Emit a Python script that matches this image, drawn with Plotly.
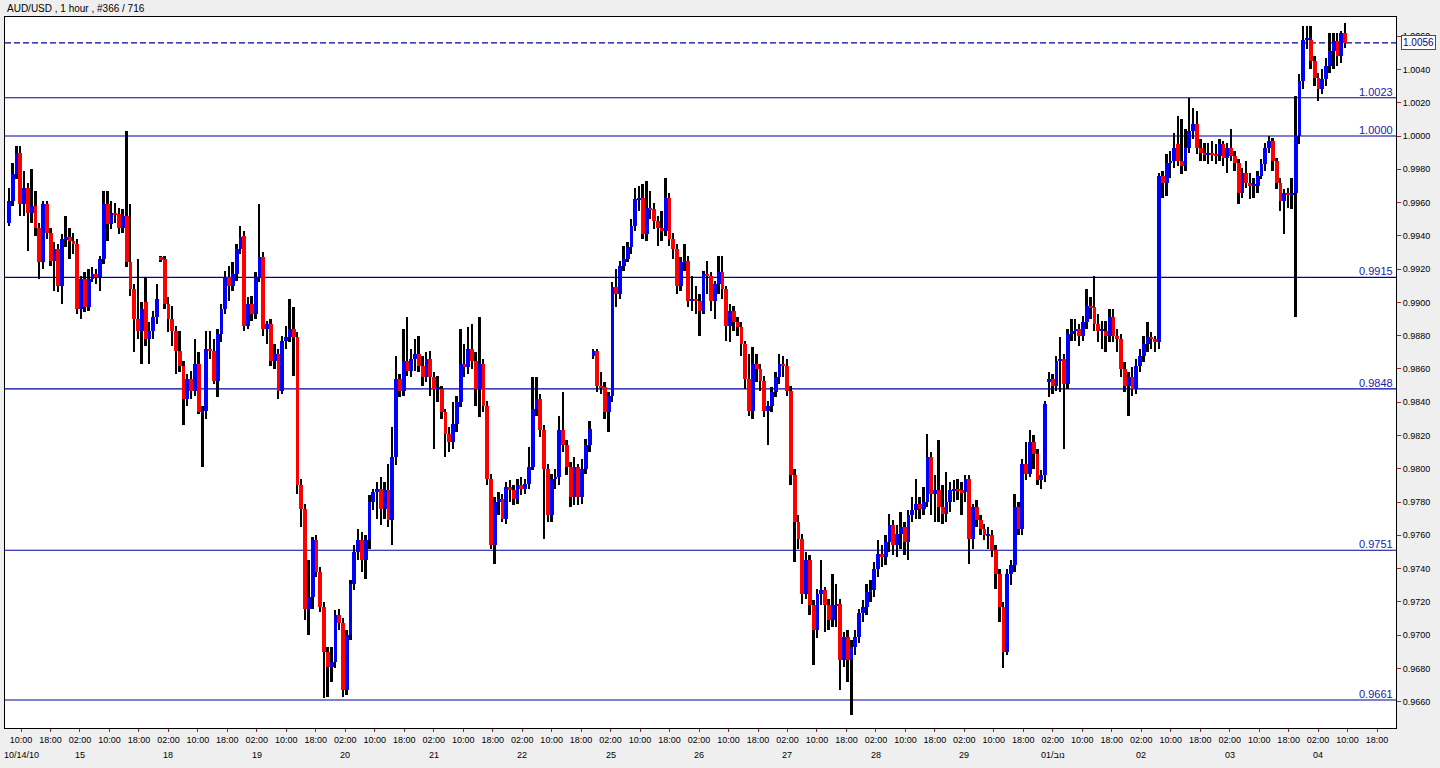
import plotly.graph_objects as go

# ---------------- data (AUD/USD, 1 hour bars) ----------------
open_ = [
    .9948, .9961, .9977, .9990, .9959, .9969, .9954, .9958, .9945, .9924,
    .9959, .9942, .9925, .9932, .9910, .9938, .9939, .9937, .9935, .9896,
    .9914, .9897, .9914, .9917, .9915, .9926, .9959, .9947, .9954, .9953,
    .9945, .9952, .9924, .9908, .9890, .9883, .9900, .9878, .9883, .9891,
    .9927, .9926, .9899, .9890, .9883, .9871, .9862, .9842, .9854, .9847,
    .9863, .9834, .9835, .9872, .9871, .9853, .9881, .9896, .9915, .9910,
    .9917, .9932, .9940, .9886, .9899, .9893, .9915, .9927, .9884, .9887, .9865, .9869,
    .9847, .9877, .9879, .9884, .9879, .9790, .9776, .9716, .9723, .9757,
    .9738, .9717, .9690, .9681, .9684, .9712, .9707, .9667, .9700, .9731,
    .9750, .9757, .9745, .9757, .9780, .9786, .9788, .9776, .9787, .9769,
    .9807, .9854, .9847, .9865, .9859, .9866, .9869, .9862, .9855, .9866,
    .9855, .9848, .9848, .9834, .9821, .9816, .9827, .9840, .9863, .9861,
    .9872, .9865, .9848, .9863, .9838, .9794, .9754, .9780, .9782, .9770,
    .9789, .9787, .9782, .9790, .9788, .9791, .9801, .9836, .9842, .9823, .9800,
    .9772, .9794, .9795, .9823, .9814, .9801, .9783, .9801, .9783, .9800, .9814,
    .9868, .9871, .9850, .9849, .9834, .9844, .9909, .9905, .9922, .9926,
    .9933, .9946, .9962, .9963, .9941, .9957, .9956, .9949, .9945, .9943,
    .9963, .9938, .9932, .9910, .9924, .9925, .9901, .9902, .9901, .9895,
    .9917, .9916, .9901, .9911, .9918, .9908, .9886, .9895, .9888, .9885,
    .9875, .9854, .9835, .9863, .9860, .9853, .9835, .9838, .9846, .9855, .9863, .9862,
    .9847, .9796, .9768, .9758, .9725, .9745, .9718, .9703, .9725, .9727, .9718,
    .9709, .9718, .9719, .9685, .9699, .9685, .9693, .9699, .9713, .9717,
    .9726, .9727, .9740, .9749, .9747, .9756, .9766, .9754, .9761, .9765,
    .9756, .9772, .9775, .9779, .9776, .9780, .9807, .9785, .9787, .9777,
    .9773, .9780, .9787, .9788, .9787, .9786, .9794, .9758, .9777, .9769,
    .9764, .9760, .9760, .9751, .9737, .9717, .9690, .9737, .9742, .9777,
    .9764, .9803, .9797, .9816, .9809, .9793, .9796,
    .9852, .9854, .9850, .9865, .9866, .9851, .9881, .9883, .9884, .9880,
    .9888, .9898, .9897, .9887, .9883, .9883, .9880, .9891, .9880, .9878,
    .9860, .9850, .9855, .9848, .9862, .9868, .9875, .9879, .9878, .9876,
    .9976, .9972, .9984, .9985, .9995, .9985, .9982, .9993, 1.0003, 1.0007,
    .9993, .9990, .9989, .9990, .9989, .9988, .9995, .9987, .9993, .9988,
    .9984, .9966, .9978, .9972, .9970, .9970, .9976, .9983, .9993, .9997,
    .9985, .9972, .9961, .9966, .9965, .9966, 1.0000, 1.0033, 1.0058, 1.0058,
    1.0045, 1.0035, 1.0028, 1.0034, 1.0042, 1.0051, 1.0057, 1.0048, 1.0062,
]
high = [
    .9969, .9984, .9994, .9994, .9979, .9972, .9980, .9967, .9948, .9961,
    .9961, .9945, .9936, .9935, .9941, .9952, .9945, .9942, .9938, .9916,
    .9918, .9920, .9921, .9920, .9928, .9967, .9967, .9961, .9960, .9957,
    .9956, 1.0003, .9959, .9911, .9926, .9900, .9915, .9888, .9895, .9911,
    .9928, .9928, .9903, .9898, .9886, .9883, .9865, .9857, .9859, .9878,
    .9870, .9838, .9883, .9883, .9878, .9884, .9899, .9919, .9922, .9924,
    .9935, .9946, .9943, .9903, .9904, .9918, .9959, .9930, .9889, .9890, .9875, .9872,
    .9880, .9886, .9902, .9897, .9882, .9794, .9779, .9745, .9759, .9760,
    .9741, .9720, .9693, .9693, .9715, .9716, .9710, .9703, .9733, .9754,
    .9764, .9762, .9760, .9784, .9788, .9792, .9795, .9792, .9803, .9825,
    .9868, .9857, .9884, .9891, .9872, .9878, .9880, .9868, .9870, .9871,
    .9858, .9856, .9850, .9836, .9825, .9840, .9844, .9884, .9875, .9885,
    .9887, .9870, .9891, .9866, .9841, .9797, .9783, .9786, .9785, .9792,
    .9793, .9790, .9794, .9795, .9794, .9813, .9855, .9855, .9845, .9826, .9803,
    .9797, .9800, .9832, .9846, .9817, .9804, .9807, .9803, .9806, .9818, .9829,
    .9872, .9872, .9858, .9852, .9846, .9912, .9920, .9925, .9934, .9936,
    .9950, .9969, .9970, .9971, .9973, .9967, .9960, .9952, .9955, .9975,
    .9966, .9942, .9935, .9927, .9935, .9928, .9916, .9910, .9905, .9919,
    .9925, .9918, .9913, .9928, .9928, .9910, .9899, .9898, .9891, .9888,
    .9877, .9869, .9873, .9869, .9863, .9856, .9841, .9849, .9858, .9869, .9868, .9866,
    .9850, .9800, .9772, .9761, .9750, .9748, .9721, .9728, .9745, .9729, .9722,
    .9737, .9731, .9722, .9702, .9703, .9697, .9703, .9716, .9721, .9731,
    .9733, .9744, .9757, .9754, .9760, .9773, .9769, .9766, .9774, .9768,
    .9775, .9783, .9794, .9783, .9789, .9821, .9810, .9796, .9817, .9790,
    .9798, .9792, .9793, .9794, .9792, .9796, .9796, .9779, .9781, .9772,
    .9767, .9765, .9763, .9754, .9740, .9720, .9740, .9745, .9785, .9780,
    .9806, .9816, .9823, .9820, .9812, .9799, .9841,
    .9858, .9857, .9868, .9879, .9869, .9884, .9890, .9890, .9887, .9892,
    .9908, .9903, .9916, .9893, .9889, .9889, .9896, .9896, .9884, .9881,
    .9864, .9858, .9861, .9866, .9872, .9880, .9888, .9882, .9880, .9978,
    .9979, .9989, .9991, 1.0002, 1.0012, 1.0010, 1.0004, 1.0023, 1.0017, 1.0015,
    .9998, .9996, .9996, .9997, .9995, .9998, .9997, .9996, 1.0004, .9991,
    .9986, .9981, .9985, .9978, .9975, .9979, .9986, .9996, 1.0000, .9999,
    .9987, .9975, .9968, .9969, .9975, 1.0024, 1.0037, 1.0066, 1.0066, 1.0066,
    1.0048, 1.0038, 1.0040, 1.0047, 1.0062, 1.0062, 1.0062, 1.0063, 1.0068,
]
low = [
    .9946, .9958, .9974, .9952, .9952, .9931, .9948, .9940, .9914, .9920,
    .9938, .9922, .9907, .9906, .9899, .9933, .9926, .9929, .9893, .9890,
    .9894, .9895, .9912, .9911, .9907, .9923, .9937, .9944, .9948, .9941,
    .9942, .9921, .9904, .9870, .9878, .9863, .9874, .9863, .9878, .9887,
    .9924, .9896, .9882, .9874, .9857, .9858, .9826, .9838, .9842, .9844,
    .9833, .9801, .9830, .9866, .9851, .9843, .9876, .9893, .9901, .9907,
    .9913, .9929, .9883, .9884, .9889, .9890, .9912, .9880, .9875, .9862, .9860, .9842,
    .9845, .9872, .9876, .9856, .9785, .9765, .9709, .9700, .9716, .9735,
    .9714, .9662, .9663, .9672, .9680, .9703, .9663, .9664, .9697, .9727,
    .9745, .9738, .9734, .9752, .9775, .9770, .9766, .9770, .9765, .9754,
    .9802, .9843, .9844, .9856, .9855, .9859, .9858, .9850, .9852, .9844,
    .9812, .9840, .9830, .9807, .9810, .9812, .9822, .9837, .9855, .9857,
    .9860, .9838, .9831, .9834, .9790, .9752, .9743, .9772, .9768, .9767,
    .9780, .9778, .9779, .9784, .9785, .9788, .9799, .9832, .9819, .9758, .9768,
    .9768, .9788, .9790, .9810, .9796, .9777, .9778, .9778, .9779, .9797, .9810,
    .9866, .9846, .9845, .9830, .9822, .9840, .9897, .9902, .9919, .9924,
    .9929, .9943, .9955, .9938, .9937, .9950, .9944, .9934, .9937, .9940,
    .9934, .9926, .9905, .9907, .9919, .9897, .9895, .9893, .9880, .9893,
    .9905, .9895, .9890, .9905, .9902, .9877, .9876, .9883, .9880, .9868,
    .9848, .9832, .9830, .9852, .9847, .9831, .9814, .9834, .9843, .9851, .9855, .9844,
    .9790, .9744, .9752, .9719, .9722, .9712, .9682, .9698, .9718, .9702, .9703,
    .9705, .9705, .9667, .9681, .9672, .9652, .9688, .9695, .9708, .9712,
    .9720, .9723, .9735, .9741, .9742, .9750, .9748, .9747, .9752, .9748,
    .9745, .9768, .9770, .9770, .9772, .9777, .9772, .9768, .9768, .9767,
    .9768, .9774, .9780, .9781, .9772, .9780, .9743, .9752, .9765, .9760,
    .9757, .9752, .9747, .9728, .9708, .9680, .9688, .9730, .9738, .9760,
    .9760, .9793, .9795, .9800, .9790, .9788, .9792,
    .9843, .9845, .9847, .9846, .9812, .9848, .9877, .9877, .9874, .9877,
    .9884, .9890, .9883, .9876, .9872, .9870, .9876, .9876, .9870, .9855,
    .9846, .9832, .9844, .9845, .9858, .9864, .9870, .9872, .9870, .9872,
    .9963, .9964, .9975, .9981, .9982, .9977, .9979, .9990, .9998, .9989,
    .9985, .9985, .9983, .9985, .9983, .9985, .9982, .9978, .9985, .9979,
    .9959, .9963, .9969, .9962, .9963, .9966, .9974, .9979, .9990, .9979,
    .9968, .9955, .9941, .9957, .9956, .9891, .9995, 1.0028, 1.0052, 1.0040,
    1.0030, 1.0021, 1.0025, 1.0030, 1.0038, 1.0040, 1.0042, 1.0044, 1.0053,
]
close = [
    .9961, .9977, .9990, .9959, .9969, .9954, .9958, .9945, .9924, .9959,
    .9942, .9925, .9932, .9910, .9938, .9939, .9937, .9935, .9896, .9914,
    .9897, .9914, .9917, .9915, .9926, .9959, .9947, .9954, .9953, .9945,
    .9952, .9924, .9908, .9890, .9883, .9896, .9878, .9883, .9891, .9902,
    .9926, .9899, .9890, .9883, .9871, .9862, .9842, .9854, .9847, .9863,
    .9834, .9835, .9872, .9871, .9853, .9881, .9896, .9915, .9910, .9917,
    .9932, .9939, .9886, .9899, .9893, .9915, .9927, .9884, .9887, .9865, .9869, .9847,
    .9877, .9879, .9884, .9879, .9790, .9776, .9716, .9723, .9757, .9738,
    .9717, .9690, .9681, .9684, .9712, .9707, .9667, .9700, .9731, .9750,
    .9757, .9745, .9757, .9780, .9786, .9788, .9776, .9787, .9769, .9807,
    .9854, .9847, .9865, .9859, .9866, .9869, .9862, .9855, .9866, .9855,
    .9848, .9848, .9834, .9821, .9816, .9827, .9840, .9863, .9861, .9872,
    .9865, .9848, .9863, .9838, .9794, .9754, .9780, .9782, .9770, .9789,
    .9787, .9782, .9790, .9788, .9791, .9801, .9836, .9842, .9823, .9800, .9772,
    .9794, .9795, .9823, .9814, .9801, .9783, .9801, .9783, .9800, .9814, .9824,
    .9871, .9850, .9849, .9834, .9844, .9909, .9905, .9922, .9926, .9933,
    .9946, .9962, .9963, .9941, .9957, .9956, .9949, .9945, .9943, .9963,
    .9938, .9932, .9910, .9924, .9925, .9901, .9902, .9901, .9895, .9917,
    .9916, .9901, .9911, .9918, .9908, .9886, .9895, .9888, .9885, .9875,
    .9854, .9835, .9863, .9860, .9853, .9835, .9838, .9846, .9855, .9863, .9862, .9847,
    .9796, .9768, .9758, .9725, .9745, .9718, .9703, .9725, .9727, .9718, .9709,
    .9718, .9719, .9685, .9699, .9685, .9693, .9699, .9713, .9717, .9726,
    .9727, .9740, .9749, .9747, .9756, .9766, .9754, .9761, .9765, .9756,
    .9772, .9775, .9779, .9776, .9780, .9807, .9785, .9787, .9777, .9773,
    .9780, .9787, .9788, .9787, .9786, .9794, .9758, .9777, .9769, .9764,
    .9760, .9760, .9751, .9737, .9717, .9690, .9737, .9742, .9777, .9764,
    .9803, .9797, .9816, .9809, .9793, .9796, .9839,
    .9854, .9850, .9865, .9866, .9851, .9881, .9883, .9884, .9880, .9888,
    .9898, .9897, .9887, .9883, .9883, .9880, .9891, .9880, .9878, .9860,
    .9850, .9855, .9848, .9862, .9868, .9875, .9879, .9878, .9876, .9976,
    .9972, .9984, .9985, .9993, .9985, .9982, .9993, 1.0003, 1.0007, .9993,
    .9990, .9989, .9990, .9989, .9988, .9995, .9987, .9993, .9988, .9984,
    .9966, .9978, .9972, .9970, .9970, .9976, .9983, .9993, .9997, .9985,
    .9972, .9961, .9966, .9965, .9966, 1.0000, 1.0033, 1.0058, 1.0058, 1.0045,
    1.0035, 1.0028, 1.0034, 1.0042, 1.0051, 1.0057, 1.0048, 1.0062, 1.0056,
]

# support / resistance levels and the current bid line
levels = [1.0023, 1.0000, 0.9915, 0.9848, 0.9751, 0.9661]
bid_price = 1.0056

# x-axis labels (one every 8 bars) and dates under the 02:00 labels
time_labels = ["10:00", "18:00"] + ["02:00", "10:00", "18:00"] * 15
date_labels = {0: "10/14/10", 2: "15", 5: "18", 8: "19", 11: "20", 14: "21",
               17: "22", 20: "25", 23: "26", 26: "27", 29: "28", 32: "29",
               35: "01/נוב", 38: "02", 41: "03", 44: "04"}

y_ticks = [0.9660 + 0.002 * k for k in range(21)]

# ---------------- layout geometry ----------------
N = len(close)
W, H = 1440, 768
plot_left, plot_right, plot_top, plot_bottom = 5, 1396, 17, 728
first_bar_px, last_bar_px = 9, 1345
ppb = (last_bar_px - first_bar_px) / (N - 1)          # pixels per bar
x_range = [(plot_left - first_bar_px) / ppb, (plot_right - first_bar_px) / ppb]
y_range = [0.964417, 1.007153]
tick_px0, tick_step = 21, 29.48
tick_vals = [(tick_px0 + tick_step * j - first_bar_px) / ppb for j in range(len(time_labels))]

FONT = "Liberation Sans"
NAVY = "#0000A0"
LABEL_BLUE = "#1a1aa8"

xs = list(range(N))
MIN_BODY = 0.00006

up_x, up_base, up_h = [], [], []
dn_x, dn_base, dn_h = [], [], []
for i in xs:
    o, c = open_[i], close[i]
    if c >= o:
        up_x.append(i); up_base.append(o); up_h.append(max(c - o, MIN_BODY))
    else:
        dn_x.append(i); dn_base.append(c); dn_h.append(max(o - c, MIN_BODY))

fig = go.Figure()
# wicks (high-low) in black
fig.add_trace(go.Bar(x=xs, base=low, y=[h - l for h, l in zip(high, low)],
                     width=0.5, marker=dict(color="#000000", line=dict(width=0)),
                     hoverinfo="skip", showlegend=False))
# bodies
fig.add_trace(go.Bar(x=up_x, base=up_base, y=up_h, width=1.0,
                     marker=dict(color="#0000FF", line=dict(width=0)),
                     hoverinfo="skip", showlegend=False))
fig.add_trace(go.Bar(x=dn_x, base=dn_base, y=dn_h, width=1.0,
                     marker=dict(color="#FF0000", line=dict(width=0)),
                     hoverinfo="skip", showlegend=False))

shapes = []
annotations = []
for lv in levels:
    shapes.append(dict(type="line", xref="paper", x0=0, x1=1, yref="y", y0=lv, y1=lv,
                       line=dict(color=NAVY, width=1.2), layer="below"))
    annotations.append(dict(xref="paper", x=1, xanchor="right", yref="y", y=lv,
                            yanchor="bottom", text=f"{lv:.4f}", showarrow=False,
                            font=dict(family=FONT, size=11, color=LABEL_BLUE),
                            xshift=-1, yshift=-2))
shapes.append(dict(type="line", xref="paper", x0=0, x1=1, yref="y", y0=bid_price, y1=bid_price,
                   line=dict(color=NAVY, width=1.2, dash="6px,3px"), layer="below"))
# current price box on the price axis
annotations.append(dict(xref="paper", x=1, xanchor="left", xshift=5, yref="y", y=bid_price,
                        yanchor="middle", text=f"{bid_price:.4f}", showarrow=False,
                        font=dict(family=FONT, size=10, color="#000080"),
                        bgcolor="#FFFFFF", bordercolor="#FF0000", borderwidth=1, borderpad=1))
# title
annotations.append(dict(xref="paper", x=0, xanchor="left", yref="paper",
                        y=1 + (plot_top - 8.5) / (plot_bottom - plot_top), yanchor="middle",
                        text="AUD/USD , 1 hour , #366 / 716", showarrow=False,
                        font=dict(family=FONT, size=10, color="#000000")))
# date row under the time labels
for j, txt in date_labels.items():
    annotations.append(dict(xref="x", x=tick_vals[j], xanchor="center", yref="paper",
                            y=-(755 - plot_bottom) / (plot_bottom - plot_top), yanchor="middle",
                            text=txt, showarrow=False,
                            font=dict(family=FONT, size=9, color="#000000")))

fig.update_layout(
    width=W, height=H,
    margin=dict(l=plot_left, r=W - plot_right, t=plot_top, b=H - plot_bottom, pad=0),
    paper_bgcolor="#EFEFEF", plot_bgcolor="#FFFFFF",
    barmode="overlay", bargap=0, showlegend=False, hovermode=False,
    shapes=shapes, annotations=annotations,
    font=dict(family=FONT, size=9, color="#000000"),
    xaxis=dict(range=x_range, tickmode="array", tickvals=tick_vals, ticktext=time_labels,
               ticks="outside", ticklen=3, tickcolor="#B02020", tickwidth=1,
               showline=True, mirror=True, linecolor="#000000", linewidth=1,
               showgrid=False, zeroline=False, tickfont=dict(family=FONT, size=9),
               fixedrange=True),
    yaxis=dict(range=y_range, side="right", tickmode="array", tickvals=y_ticks,
               ticktext=[f"{v:.4f}" for v in y_ticks],
               ticks="outside", ticklen=4, tickcolor="#B02020", tickwidth=1,
               showline=True, mirror=True, linecolor="#000000", linewidth=1,
               showgrid=False, zeroline=False, tickfont=dict(family=FONT, size=9),
               fixedrange=True),
)

fig.write_html("out.html", config={"displayModeBar": False},
               post_script="document.body.style.margin='0';document.body.style.padding='0';"
                           "document.body.style.overflow='hidden';")
